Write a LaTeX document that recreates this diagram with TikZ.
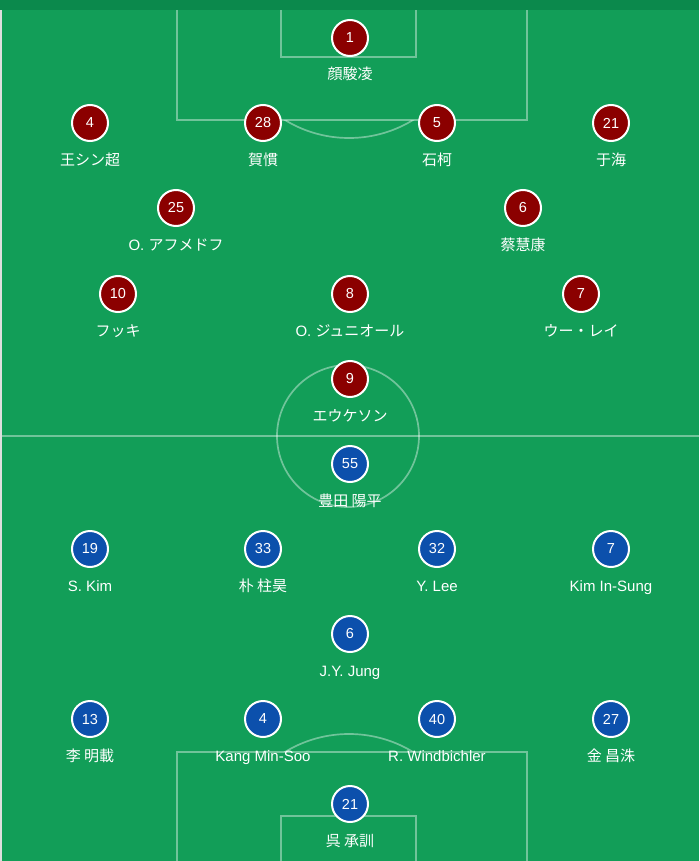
\documentclass[tikz,border=0pt]{standalone}
\usepackage{fontspec}
\setmainfont{Liberation Sans}
\newfontfamily\cjk{Noto Sans CJK JP}
\definecolor{field}{RGB}{18,158,88}
\definecolor{band}{RGB}{11,137,76}
\definecolor{edge}{RGB}{222,222,222}
\definecolor{redp}{RGB}{139,0,0}
\definecolor{bluep}{RGB}{12,80,172}
\begin{document}
\begin{tikzpicture}[x=1pt,y=-1pt,
  pitch/.style={draw=white, draw opacity=0.4, line width=1.7pt},
  redpl/.style={circle, fill=redp, draw=white, line width=2pt, minimum size=36pt, inner sep=0pt, text=white, font=\fontsize{14.5}{15}\selectfont},
  bluepl/.style={redpl, fill=bluep},
  plname/.style={anchor=base, inner sep=0pt, text=white, font=\fontsize{15}{18}\selectfont}]
\useasboundingbox (0,0) rectangle (699,861);
\fill[field] (0,0) rectangle (699,861);
\fill[band] (0,0) rectangle (699,10);
\fill[edge] (0,10) rectangle (1.8,861);
% pitch lines
\draw[pitch] (177,10) -- (177,120) -- (527,120) -- (527,10);
\draw[pitch] (281,10) -- (281,57) -- (416,57) -- (416,10);
\begin{scope}
  \clip (0,120.9) rectangle (699,200);
  \draw[pitch] (349,15) circle[radius=123pt];
\end{scope}
\draw[pitch] (1.8,436) -- (699,436);
\draw[pitch] (348,436) circle[radius=71pt];
\draw[pitch] (177,861) -- (177,752) -- (527,752) -- (527,861);
\draw[pitch] (281,861) -- (281,816) -- (416,816) -- (416,861);
\begin{scope}
  \clip (0,700) rectangle (699,751.1);
  \draw[pitch] (349,857) circle[radius=123pt];
\end{scope}
% red team
\foreach \n/\x/\y/\t in {
  1/350/38/{\cjk{顔駿凌}},
  4/90/123/{\cjk{王シン超}},
  28/263/123/{\cjk{賀慣}},
  5/437/123/{\cjk{石柯}},
  21/611/123/{\cjk{于海}},
  25/176/208/{O. \cjk{アフメドフ}},
  6/523/208/{\cjk{蔡慧康}},
  10/118/294/{\cjk{フッキ}},
  8/350/294/{O. \cjk{ジュニオール}},
  7/581/294/{\cjk{ウー・レイ}},
  9/350/379/{\cjk{エウケソン}}}{
  \node[redpl] (r\n) at (\x,\y) {\n};
  \node[plname] (rl\n) at ([yshift=-42pt]r\n.center) {\t};
}
% blue team
\foreach \n/\x/\y/\t in {
  55/350/464/{\cjk{豊田 陽平}},
  19/90/549/{S. Kim},
  33/263/549/{\cjk{朴 柱昊}},
  32/437/549/{Y. Lee},
  7/611/549/{Kim In-Sung},
  6/350/634/{J.Y. Jung},
  13/90/719/{\cjk{李 明載}},
  4/263/719/{Kang Min-Soo},
  40/437/719/{R. Windbichler},
  27/611/719/{\cjk{金 昌洙}},
  21/350/804/{\cjk{呉 承訓}}}{
  \node[bluepl] (b\n) at (\x,\y) {\n};
  \node[plname] (bl\n) at ([yshift=-42pt]b\n.center) {\t};
}
\end{tikzpicture}
\end{document}
